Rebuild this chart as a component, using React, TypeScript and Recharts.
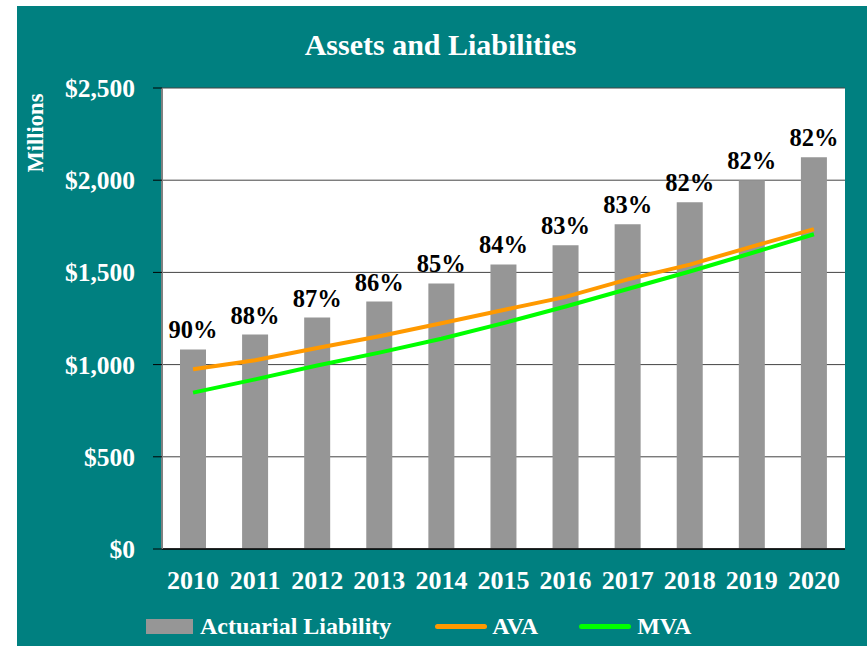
import { Bar, CartesianGrid, ComposedChart, LabelList, Legend, Line, XAxis, YAxis } from "recharts";

const years = ["2010", "2011", "2012", "2013", "2014", "2015", "2016", "2017", "2018", "2019", "2020"];
const liability = [1082, 1163, 1255, 1342, 1440, 1543, 1647, 1761, 1880, 2000, 2125];
const ava = [975, 1024, 1090, 1154, 1224, 1296, 1367, 1462, 1542, 1640, 1735];
const mva = [848, 920, 995, 1065, 1140, 1225, 1315, 1410, 1505, 1605, 1707];
const fundedPct = [90, 88, 87, 86, 85, 84, 83, 83, 82, 82, 82];
const yTicks = [0, 500, 1000, 1500, 2000, 2500];

const FONT = '"Liberation Serif", "Times New Roman", serif';
const TEAL = "#008080";

const data = years.map((year, i) => ({
  year,
  liability: liability[i],
  ava: ava[i],
  mva: mva[i],
  pct: fundedPct[i],
}));

// legend drawn by hand so the swatches look like the original
const LegendContent = () => (
  <div
    style={{
      display: "flex",
      alignItems: "center",
      height: 40,
      paddingLeft: 129,
      fontFamily: FONT,
      fontWeight: "bold",
      fontSize: 24,
      color: "#fff",
    }}
  >
    <span style={{ width: 47, height: 15, background: "#969696", marginRight: 7 }} />
    <span style={{ marginRight: 44 }}>Actuarial Liability</span>
    <span style={{ width: 52, height: 5, borderRadius: 3, background: "#FF9900", marginRight: 5 }} />
    <span style={{ marginRight: 41 }}>AVA</span>
    <span style={{ width: 52, height: 5, borderRadius: 3, background: "#00FF00", marginRight: 6 }} />
    <span>MVA</span>
  </div>
);

const formatDollar = (value: number) => `$${value.toLocaleString("en-US")}`;

export default function App() {
  return (
    <div
      style={{
        position: "absolute",
        left: 17,
        top: 6,
        width: 850,
        height: 640,
        background: TEAL,
      }}
    >
      <div
        style={{
          position: "absolute",
          top: 22,
          left: 0,
          width: 847,
          textAlign: "center",
          color: "#fff",
          fontFamily: FONT,
          fontWeight: "bold",
          fontSize: 30,
          lineHeight: "34px",
        }}
      >
        Assets and Liabilities
      </div>
      <ComposedChart
        width={850}
        height={640}
        data={data}
        margin={{ top: 82, right: 22, left: 0, bottom: 0 }}
        barCategoryGap={0}
      >
        <CartesianGrid vertical={false} fill="#fff" stroke="#444" strokeWidth={1} />
        <XAxis
          dataKey="year"
          height={57}
          tickLine={false}
          tickSize={0}
          tickMargin={22}
          axisLine={{ stroke: "#000", strokeWidth: 1.5 }}
          tick={{ fill: "#fff", fontFamily: FONT, fontWeight: "bold", fontSize: 26 }}
        />
        <YAxis
          width={145}
          domain={[0, 2500]}
          ticks={yTicks}
          tickFormatter={formatDollar}
          tickSize={9}
          tickMargin={18}
          tickLine={{ stroke: "#000" }}
          axisLine={{ stroke: "#808080", strokeWidth: 2 }}
          tick={{ fill: "#fff", fontFamily: FONT, fontWeight: "bold", fontSize: 25.5 }}
          label={() => (
            <text
              x={18}
              y={127}
              transform="rotate(-90 18 127)"
              textAnchor="middle"
              dominantBaseline="central"
              fill="#fff"
              fontFamily={FONT}
              fontWeight="bold"
              fontSize={22.5}
            >
              Millions
            </text>
          )}
        />
        <Bar dataKey="liability" fill="#969696" barSize={26} isAnimationActive={false}>
          <LabelList
            dataKey="pct"
            position="top"
            offset={11}
            formatter={(v: number) => `${v}%`}
            fill="#000"
            fontFamily={FONT}
            fontWeight="bold"
            fontSize={24.5}
          />
        </Bar>
        <Line dataKey="ava" stroke="#FF9900" strokeWidth={4} dot={false} isAnimationActive={false} />
        <Line dataKey="mva" stroke="#00FF00" strokeWidth={4} dot={false} isAnimationActive={false} />
        <Legend verticalAlign="bottom" height={40} content={<LegendContent />} />
      </ComposedChart>
    </div>
  );
}
